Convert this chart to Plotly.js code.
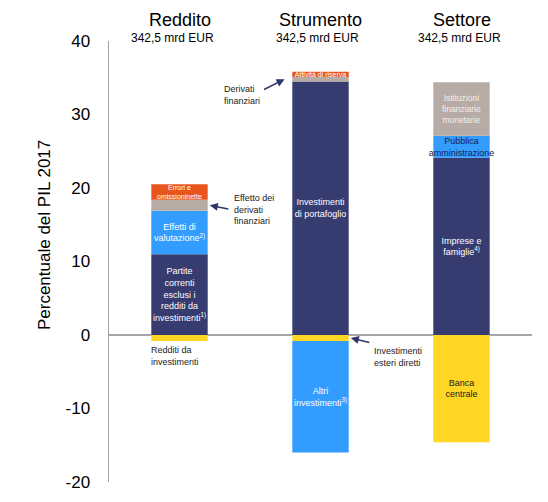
<!DOCTYPE html>
<html>
<head>
<meta charset="utf-8">
<script src="https://cdn.plot.ly/plotly-3.0.1.min.js"></script>
<style>
  html, body { margin: 0; padding: 0; background: #ffffff; }
  #chart { width: 548px; height: 502px; }
</style>
</head>
<body>
<div id="chart"></div>
<script>
// Columns of the breakdown
const categories = ['Reddito', 'Strumento', 'Settore'];
const columnTotals = ['342,5 mrd EUR', '342,5 mrd EUR', '342,5 mrd EUR'];

// Stacked components, % of 2017 GDP (positive stack bottom to top)
const navyValues = [11.0, 34.5, 24.1];
const navyLabels = ['Partite<br>correnti<br>esclusi i<br>redditi da<br>investimenti<sup>1)</sup>',
                    'Investimenti<br>di portafoglio',
                    'Imprese e<br>famiglie<sup>4)</sup>'];

const blueUpValues = [5.9, 0, 3.0];
const blueUpLabels = ['Effetti di<br>valutazione<sup>2)</sup>', '', 'Pubblica<br>amministrazione'];

const greyValues = [1.5, 0.6, 7.3];
const greyLabels = ['', '', 'Istituzioni<br>finanziarie<br>monetarie'];

const orangeValues = [2.1, 0.7, 0];
const orangeLabels = ['Errori e<br>omissioninette', 'Attività di riserva', ''];

// Negative stack (from zero downward)
const yellowValues = [-0.8, -0.8, -14.6];
const yellowLabels = ['', '', 'Banca<br>centrale'];

const blueDownValues = [0, -15.2, 0];
const blueDownLabels = ['', 'Altri<br>investimenti<sup>3)</sup>', ''];

const NAVY = '#363b70', BLUE = '#339cff', GREY = '#b7aca5', ORANGE = '#e9551c', YELLOW = '#ffd624';
const FONT = 'Liberation Sans, Arial, sans-serif';

function layer(values, labels, color, txtColors, txtSizes) {
  return {
    type: 'bar',
    x: categories,
    y: values,
    width: 0.4,
    marker: { color: color, line: { width: 0 } },
    text: labels,
    textposition: 'inside',
    insidetextanchor: 'middle',
    textangle: 0,
    constraintext: 'none',
    insidetextfont: { family: FONT, size: txtSizes, color: txtColors },
    hoverinfo: 'skip',
    showlegend: false
  };
}

const traces = [
  layer(navyValues, navyLabels, NAVY, ['#ffffff', '#ffffff', '#ffffff'], [9, 9, 9]),
  layer(blueUpValues, blueUpLabels, BLUE, ['#ffffff', '#ffffff', '#1b2050'], [9, 9, 9]),
  layer(greyValues, greyLabels, GREY, ['#f2eeea', '#f2eeea', '#f2eeea'], [8.5, 8.5, 8.5]),
  layer(orangeValues, orangeLabels, ORANGE, ['#ffffff', '#ffffff', '#ffffff'], [7, 7, 7]),
  layer(yellowValues, yellowLabels, YELLOW, ['#222222', '#222222', '#222222'], [9, 9, 9]),
  layer(blueDownValues, blueDownLabels, BLUE, ['#ffffff', '#ffffff', '#ffffff'], [9, 9, 9])
];

const annotations = [];

// Column headings
const headShift = [-7, -3, -2];
categories.forEach((c, i) => {
  annotations.push({
    x: c, xref: 'x', y: 1, yref: 'paper', yanchor: 'bottom', yshift: 9,
    text: c, showarrow: false,
    font: { family: FONT, size: 18, color: '#000000' }
  });
  annotations.push({
    x: c, xref: 'x', y: 1, yref: 'paper', yanchor: 'bottom', yshift: -6, xshift: headShift[i],
    text: columnTotals[i], showarrow: false,
    font: { family: FONT, size: 12, color: '#000000' }
  });
});

// Axis title
annotations.push({
  x: 0, xref: 'paper', xanchor: 'center', xshift: -65,
  y: 0.56, yref: 'paper', yanchor: 'middle',
  text: 'Percentuale del PIL 2017', textangle: -90, showarrow: false,
  font: { family: FONT, size: 17, color: '#000000' }
});

// Side notes
const noteFont = { family: FONT, size: 9, color: '#222222' };
const notes = [
  { x: 0.372, y: 17.1, text: 'Effetto dei<br>derivati<br>finanziari' },
  { x: 0.301, y: 32.7, text: 'Derivati<br>finanziari' },
  { x: 1.363, y: -3.0, text: 'Investimenti<br>esteri diretti' },
  { x: -0.216, y: -2.8, text: 'Redditi da<br>investimenti' }
];
notes.forEach(n => annotations.push({
  x: n.x, y: n.y, xref: 'x', yref: 'y', xanchor: 'left', yanchor: 'middle', align: 'left',
  text: n.text, showarrow: false, font: noteFont
}));

// Pointer arrows (tip at the segment they refer to)
const ARROW = '#2f3668';
function pointer(xTip, yTip, ax, ay) {
  return {
    x: xTip, y: yTip, xref: 'x', yref: 'y', text: ' ', showarrow: true,
    ax: ax, ay: ay, arrowhead: 2, arrowsize: 1, arrowwidth: 1.6, arrowcolor: ARROW,
    font: { size: 1 }
  };
}
annotations.push(pointer(0.215, navyValues[0] + blueUpValues[0] + greyValues[0] / 2, 20, 4));
annotations.push(pointer(0.745, navyValues[1] + greyValues[1] / 2, -22, 11));
annotations.push(pointer(1.215, yellowValues[1] / 2, 20, 5));

const layout = {
  width: 548,
  height: 502,
  margin: { l: 109, r: 16, t: 41, b: 20, pad: 0 },
  paper_bgcolor: '#ffffff',
  plot_bgcolor: '#ffffff',
  barmode: 'relative',
  font: { family: FONT, color: '#000000' },
  xaxis: {
    range: [-0.5, 2.5],
    showticklabels: false, showgrid: false, zeroline: false, showline: false, ticks: ''
  },
  yaxis: {
    range: [-20, 40],
    tickvals: [-20, -10, 0, 10, 20, 30, 40],
    ticktext: ['-20', '-10', '0', '10', '20', '30', '40'],
    showgrid: false,
    zeroline: true, zerolinecolor: '#a6a6a6', zerolinewidth: 2,
    showline: true, linecolor: '#a3a3a3', linewidth: 1.5,
    ticks: '', ticklabelstandoff: 14,
    tickfont: { family: FONT, size: 17, color: '#000000' }
  },
  annotations: annotations
};

Plotly.newPlot('chart', traces, layout, { displayModeBar: false, staticPlot: true });
</script>
</body>
</html>
